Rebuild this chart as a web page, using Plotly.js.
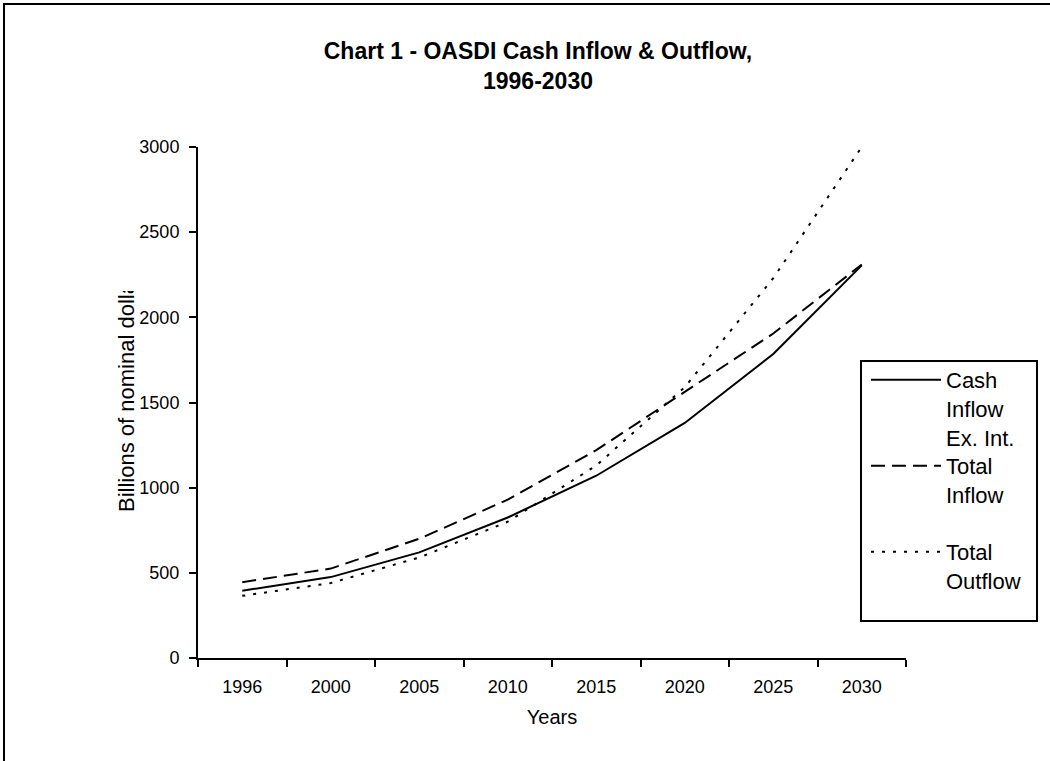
<!DOCTYPE html>
<html>
<head>
<meta charset="utf-8">
<script src="https://cdn.plot.ly/plotly-3.0.1.min.js"></script>
<style>html,body{margin:0;padding:0;background:#fff;}#chart{width:1050px;height:761px;}</style>
</head>
<body>
<div id="chart"></div>
<script>
var years = ['1996','2000','2005','2010','2015','2020','2025','2030'];
var cashInflowExInt = [395, 475, 620, 825, 1070, 1380, 1785, 2305];
var totalInflow = [445, 525, 700, 930, 1220, 1560, 1905, 2310];
var totalOutflow = [365, 440, 590, 800, 1130, 1590, 2230, 3000];
var seriesNames = ['Cash<br>Inflow<br>Ex. Int.', 'Total<br>Inflow', 'Total<br>Outflow'];

var FONT = 'Liberation Sans, Arial, sans-serif';

// plot-area pixel frame
var L = 198, R = 906, T = 147, B = 658, W = 1050, H = 761;
function px(x){ return (x - L) / (R - L); }
function py(y){ return (B - y) / (B - T); }

var legendFont = {size: 22, family: FONT, color: '#000'};
function legendBox(topPx){
  return {x: px(866), y: py(topPx), xanchor: 'left', yanchor: 'top',
          font: legendFont, bgcolor: 'rgba(0,0,0,0)', borderwidth: 0,
          itemwidth: 70, valign: 'top', tracegroupgap: 0};
}

var data = [
  {x: years, y: cashInflowExInt, name: seriesNames[0], type: 'scatter', mode: 'lines',
   line: {color: '#000', width: 2, dash: 'solid'}, legend: 'legend'},
  {x: years, y: totalInflow, name: seriesNames[1], type: 'scatter', mode: 'lines',
   line: {color: '#000', width: 2, dash: '14px,7px'}, legend: 'legend2'},
  {x: years, y: totalOutflow, name: seriesNames[2], type: 'scatter', mode: 'lines',
   line: {color: '#000', width: 2, dash: '3px,8px'}, legend: 'legend3'}
];

var layout = {
  width: W, height: H,
  margin: {l: L, r: W - R, t: T, b: H - B, pad: 0},
  paper_bgcolor: '#fff', plot_bgcolor: '#fff',
  font: {family: FONT, color: '#000', size: 18},
  title: {text: 'Chart 1 - OASDI Cash Inflow & Outflow,<br>1996-2030',
          font: {family: FONT, size: 23, weight: 'bold', color: '#000'},
          x: 538 / W, xref: 'container', xanchor: 'center',
          y: 1 - 59 / H, yref: 'container', yanchor: 'top'},
  xaxis: {type: 'category', range: [-0.5, 7.5], showgrid: false, zeroline: false,
          showline: true, linecolor: '#000', linewidth: 2,
          ticks: 'outside', tickson: 'boundaries', ticklen: 7, tickwidth: 2, tickcolor: '#000',
          ticklabelstandoff: 11,
          tickfont: {size: 18, family: FONT, color: '#000'},
          title: {text: 'Years', font: {size: 20, family: FONT, color: '#000'}, standoff: 14},
          fixedrange: true},
  yaxis: {range: [0, 3000], dtick: 500, tick0: 0, showgrid: false, zeroline: false,
          showline: true, linecolor: '#000', linewidth: 2,
          ticks: 'outside', ticklen: 7, tickwidth: 2, tickcolor: '#000',
          ticklabelstandoff: 6,
          tickfont: {size: 18, family: FONT, color: '#000'},
          fixedrange: true},
  showlegend: true,
  legend: legendBox(359),
  legend2: legendBox(445),
  legend3: legendBox(531),
  shapes: [
    {type: 'rect', xref: 'paper', yref: 'paper', x0: px(4), x1: px(1070), y0: py(790), y1: py(4),
     line: {color: '#000', width: 2}, fillcolor: 'rgba(0,0,0,0)', layer: 'below'},
    {type: 'rect', xref: 'paper', yref: 'paper', x0: px(861), x1: px(1037), y0: py(621), y1: py(361),
     line: {color: '#000', width: 2}, fillcolor: '#fff', layer: 'above'}
  ],
  annotations: [
    {text: 'Billions of nominal dollars', textangle: -90, showarrow: false,
     xref: 'paper', yref: 'paper', x: px(126), y: py(514), xanchor: 'center', yanchor: 'bottom',
     font: {size: 22, family: FONT, color: '#000'}}
  ]
};

var gd = document.getElementById('chart');
Plotly.newPlot(gd, data, layout, {staticPlot: true, displayModeBar: false}).then(function(){
  var anns = gd.querySelectorAll('g.annotation');
  var ann = null;
  for (var i = 0; i < anns.length; i++) { if (anns[i].textContent.indexOf('Billions') >= 0) ann = anns[i]; }
  if (ann) {
    var svg = ann.ownerSVGElement, ns = 'http://www.w3.org/2000/svg';
    var defs = svg.querySelector('defs');
    if (!defs) { defs = document.createElementNS(ns, 'defs'); svg.insertBefore(defs, svg.firstChild); }
    var cp = document.createElementNS(ns, 'clipPath'); cp.setAttribute('id', 'ytclip');
    var r = document.createElementNS(ns, 'rect');
    r.setAttribute('x', 0); r.setAttribute('y', 291); r.setAttribute('width', 190); r.setAttribute('height', 470);
    cp.appendChild(r); defs.appendChild(cp);
    ann.setAttribute('clip-path', 'url(#ytclip)');
  }
});
</script>
</body>
</html>
